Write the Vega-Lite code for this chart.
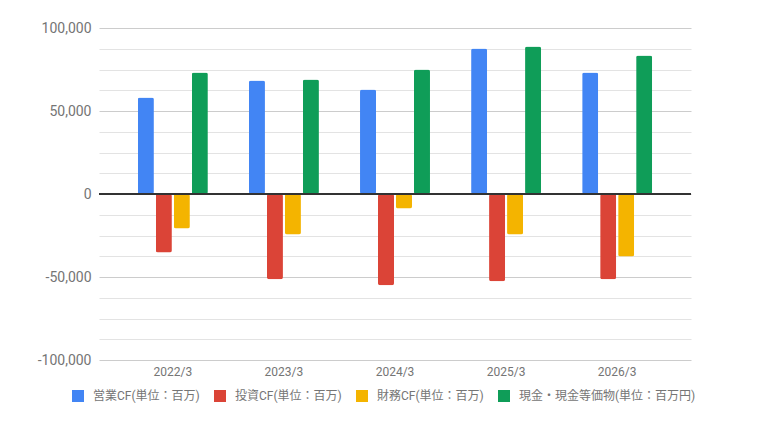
{
  "$schema": "https://vega.github.io/schema/vega-lite/v6.json",
  "autosize": "none",
  "width": 592,
  "height": 332,
  "padding": {"left": 99, "top": 28, "right": 78, "bottom": 67},
  "background": "#ffffff",
  "config": {
    "font": "Roboto, Noto Sans CJK JP",
    "view": {"stroke": null},
    "axis": {"labelColor": "#757575", "labelFont": "Roboto, Noto Sans CJK JP"}
  },
  "data": {
    "values": [
      {"year": "2022/3", "series": "営業CF(単位：百万)", "value": 58200},
      {"year": "2022/3", "series": "投資CF(単位：百万)", "value": -35200},
      {"year": "2022/3", "series": "財務CF(単位：百万)", "value": -20800},
      {"year": "2022/3", "series": "現金・現金等価物(単位：百万円)", "value": 73200},
      {"year": "2023/3", "series": "営業CF(単位：百万)", "value": 68400},
      {"year": "2023/3", "series": "投資CF(単位：百万)", "value": -51400},
      {"year": "2023/3", "series": "財務CF(単位：百万)", "value": -24400},
      {"year": "2023/3", "series": "現金・現金等価物(単位：百万円)", "value": 69000},
      {"year": "2024/3", "series": "営業CF(単位：百万)", "value": 63000},
      {"year": "2024/3", "series": "投資CF(単位：百万)", "value": -55000},
      {"year": "2024/3", "series": "財務CF(単位：百万)", "value": -8800},
      {"year": "2024/3", "series": "現金・現金等価物(単位：百万円)", "value": 75000},
      {"year": "2025/3", "series": "営業CF(単位：百万)", "value": 87600},
      {"year": "2025/3", "series": "投資CF(単位：百万)", "value": -52600},
      {"year": "2025/3", "series": "財務CF(単位：百万)", "value": -24400},
      {"year": "2025/3", "series": "現金・現金等価物(単位：百万円)", "value": 88800},
      {"year": "2026/3", "series": "営業CF(単位：百万)", "value": 73200},
      {"year": "2026/3", "series": "投資CF(単位：百万)", "value": -51400},
      {"year": "2026/3", "series": "財務CF(単位：百万)", "value": -37600},
      {"year": "2026/3", "series": "現金・現金等価物(単位：百万円)", "value": 83400}
    ]
  },
  "layer": [
    {
      "mark": {"type": "bar", "cornerRadius": 2},
      "encoding": {
        "x": {
          "field": "year",
          "type": "nominal",
          "scale": {"paddingInner": 0.37, "paddingOuter": 0.35},
          "axis": {
            "title": null,
            "labelAngle": 0,
            "ticks": false,
            "domain": false,
            "labelFontSize": 12,
            "labelPadding": 6
          }
        },
        "xOffset": {
          "field": "series",
          "type": "nominal",
          "scale": {
            "domain": ["営業CF(単位：百万)", "投資CF(単位：百万)", "財務CF(単位：百万)", "現金・現金等価物(単位：百万円)"],
            "paddingInner": 0.11,
            "paddingOuter": 0
          }
        },
        "y": {
          "field": "value",
          "type": "quantitative",
          "scale": {"domain": [-100000, 100000], "nice": false},
          "axis": {
            "title": null,
            "values": [-100000, -87500, -75000, -62500, -50000, -37500, -25000, -12500, 0, 12500, 25000, 37500, 50000, 62500, 75000, 87500, 100000],
            "tickCount": 40,
            "labelExpr": "datum.value % 50000 === 0 ? replace(format(datum.value, ','), '\u2212', '-') : ''",
            "labelOverlap": false,
            "ticks": false,
            "domain": false,
            "labelFontSize": 14,
            "labelPadding": 8,
            "gridColor": {"condition": {"test": "datum.value % 50000 === 0", "value": "#cccccc"}, "value": "#e3e3e3"}
          }
        },
        "color": {
          "field": "series",
          "type": "nominal",
          "scale": {
            "domain": ["営業CF(単位：百万)", "投資CF(単位：百万)", "財務CF(単位：百万)", "現金・現金等価物(単位：百万円)"],
            "range": ["#4285F4", "#DB4437", "#F4B400", "#0F9D58"]
          },
          "legend": {
            "title": null,
            "orient": "none",
            "direction": "horizontal",
            "legendX": -27,
            "legendY": 362,
            "padding": 0,
            "symbolType": "square",
            "symbolSize": 144,
            "symbolStrokeWidth": 0,
            "labelOffset": 9,
            "columnPadding": 14,
            "labelFontSize": 12,
            "labelColor": "#757575",
            "labelFont": "Roboto, Noto Sans CJK JP",
            "labelLimit": 300
          }
        }
      }
    },
    {
      "mark": {"type": "rule", "color": "#333333", "strokeWidth": 1},
      "encoding": {"y": {"datum": 0}}
    }
  ]
}
